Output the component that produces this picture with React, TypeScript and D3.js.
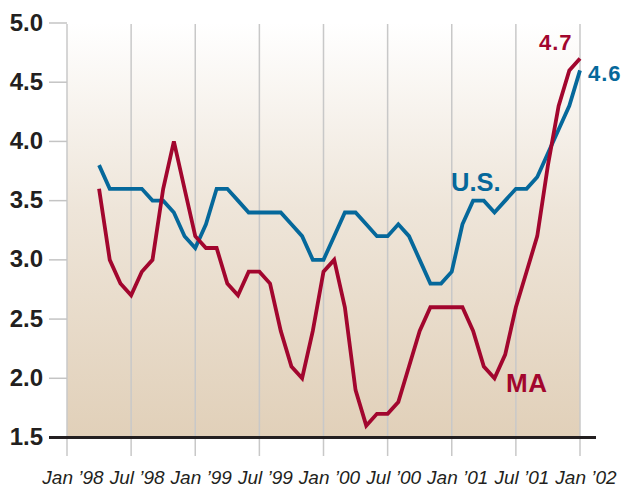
import React from "react";
import * as d3 from "d3";

// Month index: 0 = Jan '98 ... 48 = Jan '02
const startMonth = 3; // Apr '98
const usValues = [
  3.8, 3.6, 3.6, 3.6, 3.6, 3.5, 3.5, 3.4, 3.2,
  3.1, 3.3, 3.6, 3.6, 3.5, 3.4, 3.4, 3.4, 3.4, 3.3, 3.2, 3.0,
  3.0, 3.2, 3.4, 3.4, 3.3, 3.2, 3.2, 3.3, 3.2, 3.0, 2.8, 2.8,
  2.9, 3.3, 3.5, 3.5, 3.4, 3.5, 3.6, 3.6, 3.7, 3.9, 4.1, 4.3,
  4.6,
];
const maValues = [
  3.6, 3.0, 2.8, 2.7, 2.9, 3.0, 3.6, 4.0, 3.6,
  3.2, 3.1, 3.1, 2.8, 2.7, 2.9, 2.9, 2.8, 2.4, 2.1, 2.0, 2.4,
  2.9, 3.0, 2.6, 1.9, 1.6, 1.7, 1.7, 1.8, 2.1, 2.4, 2.6, 2.6,
  2.6, 2.6, 2.4, 2.1, 2.0, 2.2, 2.6, 2.9, 3.2, 3.8, 4.3, 4.6,
  4.7,
];
const yTicks = [1.5, 2.0, 2.5, 3.0, 3.5, 4.0, 4.5, 5.0];
const xTickMonths = [0, 6, 12, 18, 24, 30, 36, 42, 48];
const xTickLabels = [
  "Jan \u201998", "Jul \u201998", "Jan \u201999", "Jul \u201999", "Jan \u201900",
  "Jul \u201900", "Jan \u201901", "Jul \u201901", "Jan \u201902",
];

const RED = "#a2062e";
const BLUE = "#05689b";
const DARK = "#231f20";
const FONT = "'Liberation Sans', Arial, Helvetica, sans-serif";

export default function App() {
  const W = 621, H = 488;
  const x = d3.scaleLinear().domain([0, 48]).range([67, 580]);
  const y = d3.scaleLinear().domain([1.5, 5.0]).range([437.5, 23]);

  const line = d3
    .line<number>()
    .x((_, i) => x(startMonth + i))
    .y((d) => y(d));

  const usLast = usValues[usValues.length - 1];
  const maLast = maValues[maValues.length - 1];

  return (
    <svg
      width={W}
      height={H}
      style={{ position: "absolute", left: 0, top: 0, background: "#fff" }}
    >
      <defs>
        <linearGradient id="bg" x1="0" y1="0" x2="0" y2="1">
          <stop offset="0%" stopColor="#ffffff" />
          <stop offset="45%" stopColor="#eee5d9" />
          <stop offset="100%" stopColor="#e1d0b9" />
        </linearGradient>
      </defs>
      <rect
        x={x(0)}
        y={y(5.0)}
        width={x(48) - x(0)}
        height={y(1.5) - y(5.0)}
        fill="url(#bg)"
      />
      {xTickMonths.map((m) => (
        <line
          key={"g" + m}
          x1={x(m)}
          x2={x(m)}
          y1={y(5.0) + 1}
          y2={456}
          stroke="#c8c8c8"
          strokeWidth={1.5}
        />
      ))}
      {yTicks.map((t) => (
        <g key={"y" + t}>
          <line x1={49} x2={x(0)} y1={y(t)} y2={y(t)} stroke="#c4c4c4" strokeWidth={1.5} />
          <text
            x={43}
            y={y(t) + 7.5}
            textAnchor="end"
            fontFamily={FONT}
            fontWeight="bold"
            fontSize={24}
            fill={DARK}
          >
            {t.toFixed(1)}
          </text>
        </g>
      ))}
      {xTickMonths.map((m, i) => (
        <text
          key={"x" + m}
          x={x(m) + 6}
          y={483.5}
          textAnchor="middle"
          fontFamily={FONT}
          fontStyle="italic"
          fontSize={19}
          fill={DARK}
        >
          {xTickLabels[i]}
        </text>
      ))}
      <line x1={49} x2={596} y1={y(1.5)} y2={y(1.5)} stroke={DARK} strokeWidth={3} />
      <path d={line(usValues) || ""} fill="none" stroke={BLUE} strokeWidth={3.8} />
      <path d={line(maValues) || ""} fill="none" stroke={RED} strokeWidth={3.8} />
      <text x={539} y={50} fontFamily={FONT} fontWeight="bold" fontSize={22} letterSpacing={1} fill={RED}>
        {maLast.toFixed(1)}
      </text>
      <text x={588} y={81} fontFamily={FONT} fontWeight="bold" fontSize={22} letterSpacing={1} fill={BLUE}>
        {usLast.toFixed(1)}
      </text>
      <text x={451} y={191} fontFamily={FONT} fontWeight="bold" fontSize={25.5} fill={BLUE}>
        U.S.
      </text>
      <text x={506} y={392} fontFamily={FONT} fontWeight="bold" fontSize={26} letterSpacing={0.5} fill={RED}>
        MA
      </text>
    </svg>
  );
}
